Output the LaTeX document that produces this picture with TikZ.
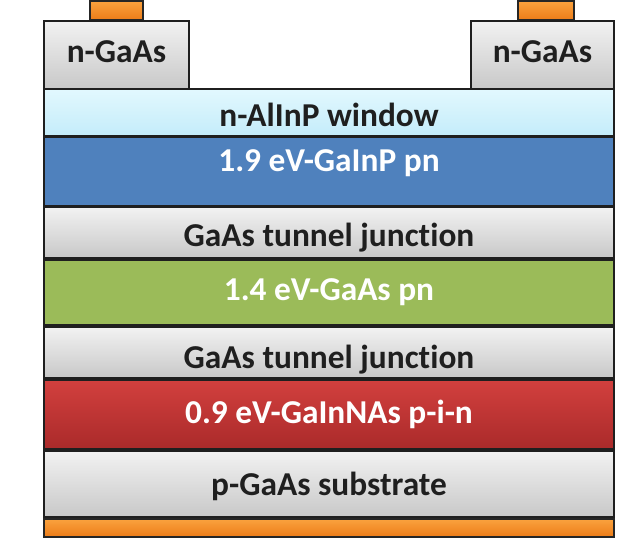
\documentclass[tikz,border=0pt]{standalone}
\usepackage{fontspec}
\setmainfont[Ligatures={NoCommon}]{Carlito}
\definecolor{ctop}{RGB}{250,162,62}
\definecolor{cbot}{RGB}{236,124,24}
\definecolor{wtop}{RGB}{226,248,254}
\definecolor{wbot}{RGB}{196,236,250}
\definecolor{gtop}{RGB}{242,242,242}
\definecolor{gbot}{RGB}{200,200,200}
\definecolor{blueL}{RGB}{79,129,189}
\definecolor{greenL}{RGB}{155,187,89}
\definecolor{rtop}{RGB}{210,64,62}
\definecolor{rbot}{RGB}{170,42,42}
\begin{document}
\begin{tikzpicture}[x=1bp,y=-1bp,
  layer/.style={draw=black!88,line width=1.6bp},
  graylayer/.style={layer,top color=gtop,bottom color=gbot},
  contact/.style={draw=black!85,line width=1.2bp,top color=ctop,bottom color=cbot},
  lbl/.style={anchor=base,font=\fontsize{33.5}{38}\selectfont\bfseries,text=black!88,inner sep=0pt},
  wlbl/.style={lbl,text=white}]
\useasboundingbox (0,0) rectangle (637,540);
% top contacts
\draw[contact] (90,1) rectangle (143,20);
\draw[contact] (518,1) rectangle (574,20);
% n-GaAs caps
\draw[graylayer] (44,21) rectangle (189,89);
\draw[graylayer] (471,21) rectangle (614,89);
% stack
\draw[layer,top color=wtop,bottom color=wbot] (44,89) rectangle (614,136);
\draw[layer,fill=blueL] (44,137) rectangle (614,206);
\draw[graylayer] (44,207) rectangle (614,258);
\draw[layer,fill=greenL] (44,260) rectangle (614,325);
\draw[graylayer] (44,327) rectangle (614,378);
\draw[layer,top color=rtop,bottom color=rbot] (44,380) rectangle (614,449);
\draw[graylayer] (44,451) rectangle (614,517);
\draw[contact] (44,519) rectangle (614,537);
% labels
\node[lbl] (c1) at (116.5,63) {n-GaAs};
\node[lbl] (c2) at (542.5,63) {n-GaAs};
\node[lbl] (w) at (329,127) {n-AlInP window};
\node[wlbl] (top) at (329,172) {1.9 eV-GaInP pn};
\node[lbl] (tj1) at (329,247) {GaAs tunnel junction};
\node[wlbl] (mid) at (329,300) {1.4 eV-GaAs pn};
\node[lbl] (tj2) at (329,368) {GaAs tunnel junction};
\node[wlbl] (bot) at (329,423) {0.9 eV-GaInNAs p-i-n};
\node[lbl] (sub) at (329,495) {p-GaAs substrate};
\end{tikzpicture}
\end{document}
